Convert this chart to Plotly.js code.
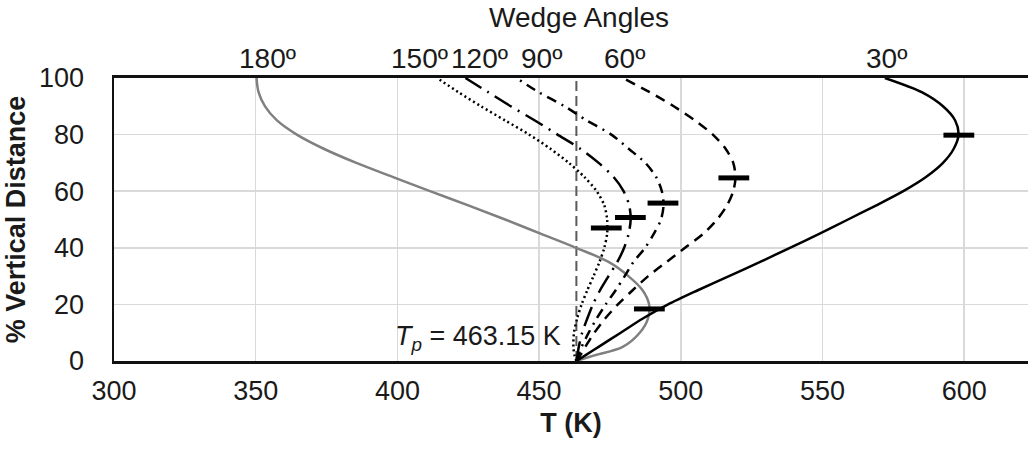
<!DOCTYPE html>
<html>
<head>
<meta charset="utf-8">
<script src="https://cdn.plot.ly/plotly-3.0.1.min.js"></script>
<style>html,body{margin:0;padding:0;background:#fff;}#chart{width:1028px;height:450px;}</style>
</head>
<body>
<div id="chart"></div>
<script>
// % vertical distance levels (shared by all curves)
const yLevels = [0, 2, 5, 10, 15, 20, 25, 30, 35, 40, 45, 50, 55, 60, 65, 70, 75, 80, 85, 90, 95, 100];
// temperature (K) of each wedge-angle curve at those levels
const t30  = [463.15, 466.3, 471.0, 478.8, 486.6, 495.5, 506.0, 517.0, 528.0, 538.5, 549.0, 559.0, 569.0, 578.5, 586.5, 592.5, 596.3, 598.0, 596.8, 592.5, 585.0, 572.0];
const t60  = [463.15, 464.5, 466.3, 469.5, 473.3, 477.8, 483.0, 488.5, 495.0, 501.5, 508.0, 512.8, 516.3, 518.5, 519.3, 518.5, 515.8, 511.3, 505.0, 497.5, 489.0, 479.5];
const t90  = [463.15, 463.8, 465.0, 467.5, 470.3, 473.5, 477.0, 480.2, 483.3, 487.4, 490.5, 493.0, 493.9, 493.3, 491.3, 487.5, 481.6, 475.5, 466.8, 459.0, 449.8, 442.0];
const t120 = [463.15, 463.5, 464.0, 465.2, 467.0, 469.0, 471.5, 474.5, 477.6, 480.0, 481.6, 482.3, 481.8, 479.8, 476.3, 471.0, 464.5, 456.5, 448.5, 440.0, 432.0, 424.0];
const t150 = [463.15, 462.5, 462.1, 462.3, 463.4, 465.0, 467.0, 469.2, 471.3, 473.0, 474.0, 474.0, 473.0, 470.3, 466.0, 460.5, 454.0, 446.5, 438.0, 429.5, 421.5, 414.0];
const t180 = [463.15, 469.5, 479.5, 485.5, 488.4, 488.8, 486.5, 481.5, 474.5, 463.0, 450.5, 438.0, 425.0, 411.5, 398.5, 385.5, 374.0, 364.5, 357.5, 353.3, 351.0, 350.3];
// maximum-temperature markers
const maxT = [598.1, 518.7, 493.7, 482.2, 473.7, 488.9];
const maxY = [79.8, 64.7, 55.8, 50.7, 47.0, 18.4];
// processing temperature
const Tp = 463.15;
const TpY = [0, 100];
// wedge angle labels and their horizontal positions (K)
const angleLabels = ['180º', '150º', '120º', '90º', '60º', '30º'];
const angleLabelT = [354.3, 407.8, 429.0, 450.9, 480.2, 572.6];

const FONT = 'Liberation Sans, Arial, sans-serif';
const W = 2.5;

const traces = [
  {x: [Tp, Tp], y: TpY, mode: 'lines', line: {color: '#5a5a5a', width: 2, dash: '10px,5px'}, hoverinfo: 'skip'},
  {x: t180, y: yLevels, mode: 'lines', line: {color: '#808080', width: W, shape: 'spline', smoothing: 1}},
  {x: t150, y: yLevels, mode: 'lines', line: {color: '#000', width: W, dash: '2px,3px', shape: 'spline', smoothing: 0.8}},
  {x: t120, y: yLevels, mode: 'lines', line: {color: '#000', width: W, dash: '20px,7px,2px,7px', shape: 'spline', smoothing: 0.8}},
  {x: t90,  y: yLevels, mode: 'lines', line: {color: '#000', width: W, dash: '10px,6px,2px,6px', shape: 'spline', smoothing: 0.8}},
  {x: t60,  y: yLevels, mode: 'lines', line: {color: '#000', width: W, dash: '10px,7px', shape: 'spline', smoothing: 0.8}},
  {x: t30,  y: yLevels, mode: 'lines', line: {color: '#000', width: W, shape: 'spline', smoothing: 0.8}},
  {x: maxT, y: maxY, mode: 'markers', marker: {symbol: 'line-ew', size: 22, color: '#000', line: {color: '#000', width: 5}}, cliponaxis: false}
];

const annotations = angleLabels.map((t, i) => ({
  x: angleLabelT[i], xref: 'x', y: 1, yref: 'paper', yanchor: 'bottom', xanchor: 'center', yshift: 2,
  text: t, showarrow: false, font: {family: FONT, size: 28, color: '#1a1a1a'}
}));
annotations.push({
  x: 0.509, xref: 'paper', y: 1.214, yref: 'paper', xanchor: 'center', yanchor: 'middle',
  text: 'Wedge Angles', showarrow: false, font: {family: FONT, size: 28, color: '#1a1a1a'}
});
annotations.push({
  x: 458.6, xref: 'x', y: 8, yref: 'y', xanchor: 'right', yanchor: 'middle',
  text: '<i>T<sub>p</sub></i> = 463.15 K', showarrow: false, font: {family: FONT, size: 27, color: '#1a1a1a'}
});

const layout = {
  width: 1028, height: 450,
  margin: {l: 114, r: 0, t: 78, b: 89, pad: 0},
  paper_bgcolor: '#fff', plot_bgcolor: '#fff',
  showlegend: false,
  font: {family: FONT, size: 27, color: '#1a1a1a'},
  xaxis: {
    range: [300, 622.5], tick0: 300, dtick: 50, ticks: '', ticklabelstandoff: 4,
    showgrid: true, gridcolor: '#d9d9d9', gridwidth: 1.5, zeroline: false,
    showline: true, linecolor: '#111', linewidth: 3, mirror: true,
    tickfont: {family: FONT, size: 27, color: '#1a1a1a'},
    title: {text: 'T (K)', font: {family: FONT, size: 27, color: '#1a1a1a', weight: 'bold'}, standoff: 8}
  },
  yaxis: {
    range: [0, 100], tick0: 0, dtick: 20, ticks: '', ticklabelstandoff: 22,
    showgrid: true, gridcolor: '#d9d9d9', gridwidth: 1.5, zeroline: false,
    showline: true, linecolor: '#111', linewidth: 2.5,
    tickfont: {family: FONT, size: 27, color: '#1a1a1a'},
    title: {text: '% Vertical Distance', font: {family: FONT, size: 27, color: '#1a1a1a', weight: 'bold'}, standoff: 6}
  },
  annotations: annotations
};

Plotly.newPlot('chart', traces, layout, {displayModeBar: false, staticPlot: true});
</script>
</body>
</html>
